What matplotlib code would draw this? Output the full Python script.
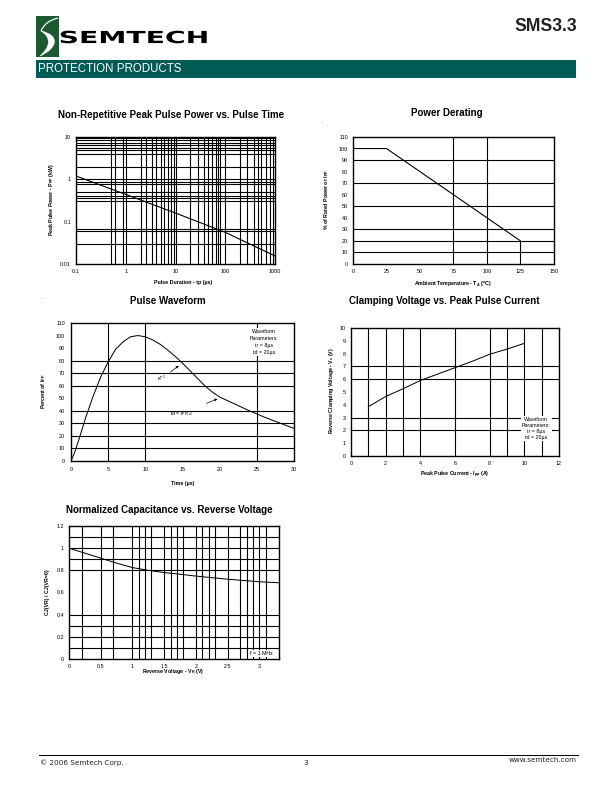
# SMS3.3 datasheet page 3: typical characteristics curves.
import matplotlib
matplotlib.use("Agg")
import matplotlib.pyplot as plt
from matplotlib.patches import Rectangle, PathPatch
from matplotlib.path import Path
from matplotlib.textpath import TextPath
from matplotlib.font_manager import FontProperties
from matplotlib.transforms import Affine2D

plt.rcParams["font.family"] = ["Liberation Sans", "DejaVu Sans"]
plt.rcParams["mathtext.default"] = "regular"

# Non-repetitive peak pulse power vs. pulse time
pulseTime = [0.1, 1, 10, 100, 1000]
peakPower = [1.2, 0.44, 0.16, 0.056, 0.0155]
powerGridX = [0.5, 0.6, 0.9, 1, 2, 2.5, 3.3, 4, 5, 6, 7, 8, 9.3, 10, 20, 28, 37, 45,
              53, 64, 70, 80, 100, 200, 280, 370, 460, 520, 650, 800, 900]
powerGridY = [9.3, 8.3, 7.4, 6.5, 5.6, 4.85, 4.05, 2, 1, 0.87, 0.78, 0.49, 0.41,
              0.36, 0.3, 0.068, 0.059, 0.029]

# Power derating
ambientTemp = [0, 25, 125, 125]
ratedPower = [100, 100, 20, 0]

# Pulse waveform
waveTime = [0, 0.5, 1, 2, 3, 4, 5, 6, 7, 8, 9, 10, 11, 12, 13, 14, 15, 16, 17, 18,
            19, 20, 22, 24, 26, 28, 30]
wavePercent = [0, 7, 16, 35, 52, 67, 79, 89, 95, 99, 100, 99, 96.5, 93, 88.5, 83.5,
               78, 72, 66, 60, 55, 51, 45.5, 40, 35, 30.5, 26]

# Clamping voltage vs. peak pulse current
pulseCurrent = [1, 2, 3, 4, 5, 6, 7, 8, 9, 10]
clampVoltage = [3.85, 4.65, 5.25, 5.9, 6.4, 6.9, 7.4, 7.95, 8.35, 8.8]

# Normalized capacitance vs. reverse voltage
reverseVoltage = [0, 0.25, 0.5, 0.75, 1.0, 1.25, 1.5, 1.75, 2.0, 2.5, 3.0, 3.3]
normCap = [1.0, 0.955, 0.91, 0.865, 0.825, 0.80, 0.78, 0.765, 0.748, 0.72, 0.697, 0.688]
capGridX = [0.2, 0.5, 0.7, 1.0, 1.1, 1.2, 1.3, 1.5, 1.6, 1.7, 1.8, 2.0, 2.1, 2.2, 2.3,
            2.5, 2.7, 2.8, 2.9, 3.0, 3.1]
capGridY = [0.1, 0.2, 0.3, 0.4, 0.8, 0.9, 1.0, 1.1]

W, H = 612, 792
fig = plt.figure(figsize=(W / 72, H / 72), dpi=72)

# Page background axes, in pixel units (y down).
bg = fig.add_axes([0, 0, 1, 1], zorder=-1)
bg.set_xlim(0, W)
bg.set_ylim(H, 0)
bg.axis("off")


def chart_axes(x0, y0, x1, y1):
    ax = fig.add_axes([x0 / W, 1 - y1 / H, (x1 - x0) / W, (y1 - y0) / H])
    for s in ax.spines.values():
        s.set_linewidth(1.4)
    ax.tick_params(length=0, labelsize=5.4, pad=5)
    return ax


def grid_lines(ax, xs=(), ys=()):
    for v in xs:
        ax.axvline(v, color="black", lw=1.1, zorder=1)
    for v in ys:
        ax.axhline(v, color="black", lw=1.1, zorder=1)


titleFont = dict(fontsize=9.8, fontweight="bold", ha="center", va="center")
labelFont = dict(fontsize=5.3, fontweight="bold", ha="center", va="center")
boxFont = dict(fontsize=5.2, ha="center", va="center", linespacing=1.55,
               bbox=dict(facecolor="white", edgecolor="none", pad=1.0), zorder=5)

# ---- Chart 1
ax1 = chart_axes(76, 137, 275, 264)
ax1.set_xscale("log")
ax1.set_yscale("log")
ax1.set_xlim(0.1, 1000)
ax1.set_ylim(0.01, 10)
ax1.minorticks_off()
ax1.set_xticks([0.1, 1, 10, 100, 1000], ["0.1", "1", "10", "100", "1000"])
ax1.set_yticks([0.01, 0.1, 1, 10], ["0.01", "0.1", "1", "10"])
grid_lines(ax1, powerGridX, powerGridY)
ax1.plot(pulseTime, peakPower, color="black", lw=1.1, zorder=3)
bg.text(171.5, 115, "Non-Repetitive Peak Pulse Power vs. Pulse Time", **titleFont)
bg.text(183, 282.5, "Pulse Duration - tp (µs)", **labelFont)
bg.text(52, 200, "Peak Pulse Power - P$_{PP}$ (kW)", rotation=90, **labelFont)

# ---- Chart 2
ax2 = chart_axes(353, 137, 554, 264)
ax2.set_xlim(0, 150)
ax2.set_ylim(0, 110)
ax2.set_xticks(range(0, 151, 25))
ax2.set_yticks(range(0, 111, 10))
grid_lines(ax2, [75, 100], [10, 20, 30, 50, 70, 90])
ax2.plot(ambientTemp, ratedPower, color="black", lw=1.1, zorder=3)
bg.text(446.5, 113.5, "Power Derating", **titleFont)
bg.text(453, 284, "Ambient Temperature - T$_A$ ($^o$C)", **labelFont)
bg.text(327, 200, "% of Rated Power or I$_{PP}$", rotation=90, **labelFont)
bg.text(321.5, 123, ".", fontsize=5)

# ---- Chart 3
ax3 = chart_axes(71, 323, 294, 461)
ax3.set_xlim(0, 30)
ax3.set_ylim(0, 110)
ax3.set_xticks(range(0, 31, 5))
ax3.set_yticks(range(0, 111, 10))
ax3.tick_params(pad=6)
grid_lines(ax3, [5, 10, 25], [10, 20, 30, 40, 60, 70, 80])
ax3.plot(waveTime, wavePercent, color="black", lw=1.0, zorder=3)
ax3.text(26.0, 95, "Waveform\nParameters:\ntr = 8µs\ntd = 20µs", **boxFont)
ax3.annotate("e$^{-1}$", xy=(14.5, 76), xytext=(12.2, 65.5), fontsize=5.2,
             ha="center", va="center",
             arrowprops=dict(arrowstyle="-|>", color="black", lw=0.7,
                             mutation_scale=5, shrinkA=3, shrinkB=0))
ax3.annotate("td = I$_{PP}$/2", xy=(19.7, 49.5), xytext=(14.9, 38), fontsize=5.2,
             ha="center", va="center",
             arrowprops=dict(arrowstyle="-|>", color="black", lw=0.7,
                             mutation_scale=5, shrinkA=12, shrinkB=0))
bg.text(167.5, 301, "Pulse Waveform", **titleFont)
bg.text(183, 483, "Time (µs)", **labelFont)
bg.text(44, 391, "Percent of I$_{PP}$", rotation=90, **labelFont)
bg.text(40.5, 299, ".", fontsize=5)

# ---- Chart 4
ax4 = chart_axes(351, 328, 559, 456)
ax4.set_xlim(0, 12)
ax4.set_ylim(0, 10)
ax4.set_xticks(range(0, 13, 2))
ax4.set_yticks(range(0, 11))
grid_lines(ax4, [1, 2, 3, 4, 6, 8, 9, 10, 11], [2, 3, 6, 7])
ax4.plot(pulseCurrent, clampVoltage, color="black", lw=1.0, zorder=3)
ax4.text(10.7, 2.15, "Waveform\nParameters:\ntr = 8µs\ntd = 20µs",
         **dict(boxFont, linespacing=1.25))
bg.text(444, 301, "Clamping Voltage vs. Peak Pulse Current", **titleFont)
bg.text(455, 474.5, "Peak Pulse Current - I$_{pp}$ (A)", **labelFont)
bg.text(331, 391, "Reverse Clamping Voltage - V$_c$ (V)", rotation=90, **labelFont)

# ---- Chart 5
ax5 = chart_axes(69, 526, 279, 659)
ax5.set_xlim(0, 3.31)
ax5.set_ylim(0, 1.2)
ax5.set_xticks([0, 0.5, 1, 1.5, 2, 2.5, 3], ["0", "0.5", "1", "1.5", "2", "2.5", "3"])
ax5.set_yticks([0, 0.2, 0.4, 0.6, 0.8, 1, 1.2], ["0", "0.2", "0.4", "0.6", "0.8", "1", "1.2"])
grid_lines(ax5, capGridX, capGridY)
ax5.plot(reverseVoltage, normCap, color="black", lw=1.0, zorder=3)
ax5.text(3.03, 0.05, "f = 1 MHz", **boxFont)
bg.text(169.5, 510, "Normalized Capacitance vs. Reverse Voltage", **titleFont)
bg.text(173, 672, "Reverse Voltage - V$_R$ (V)", **labelFont)
bg.text(47.5, 592, "CJ(VR) / CJ(VR=0)", rotation=90, **labelFont)

# ---- Header
bg.add_patch(Rectangle((36, 16), 23, 41, facecolor="#1d5a34", edgecolor="none"))
thin = Path([(58, 18), (45, 21), (41, 31)], [Path.MOVETO, Path.CURVE3, Path.CURVE3])
bg.add_patch(PathPatch(thin, facecolor="none", edgecolor="white", lw=1.2))
swoosh = Path([(41, 31), (60, 35), (58, 48), (40, 56), (50, 47), (52, 38), (41, 31)],
              [Path.MOVETO, Path.CURVE4, Path.CURVE4, Path.CURVE4,
               Path.CURVE4, Path.CURVE4, Path.CURVE4])
bg.add_patch(PathPatch(swoosh, facecolor="white", edgecolor="white", lw=0.5))

logoText = TextPath((0, 0), "SEMTECH", size=10,
                    prop=FontProperties(family="DejaVu Sans", weight="bold"))
ext = logoText.get_extents()
sx = 146 / ext.width
sy = 12.6 / ext.height
logoText = Affine2D().translate(-ext.x0, -ext.y0).scale(sx, -sy).translate(60.7, 43.3)\
    .transform_path(logoText)
bg.add_patch(PathPatch(logoText, facecolor="black", edgecolor="none"))

bg.text(577, 26.5, "SMS3.3", fontsize=17.5, fontweight="bold", ha="right",
        va="center", color="#222222")
bg.add_patch(Rectangle((36, 60), 540, 17.7, facecolor="#005b55", edgecolor="none"))
bg.text(38.5, 69, "PROTECTION PRODUCTS", fontsize=11.5, color="white",
        ha="left", va="center")

# ---- Footer
bg.plot([39, 578], [755, 755], color="black", lw=1.0)
bg.text(40.5, 763, "© 2006 Semtech Corp.", fontsize=7.2, family="DejaVu Sans",
        ha="left", va="center", color="#222222")
bg.text(306, 763, "3", fontsize=7.2, family="DejaVu Sans", ha="center", va="center",
        color="#222222")
bg.text(577, 760.5, "www.semtech.com", fontsize=7.2, family="DejaVu Sans",
        ha="right", va="center", color="#222222")

fig.savefig("out.png", dpi=72)
